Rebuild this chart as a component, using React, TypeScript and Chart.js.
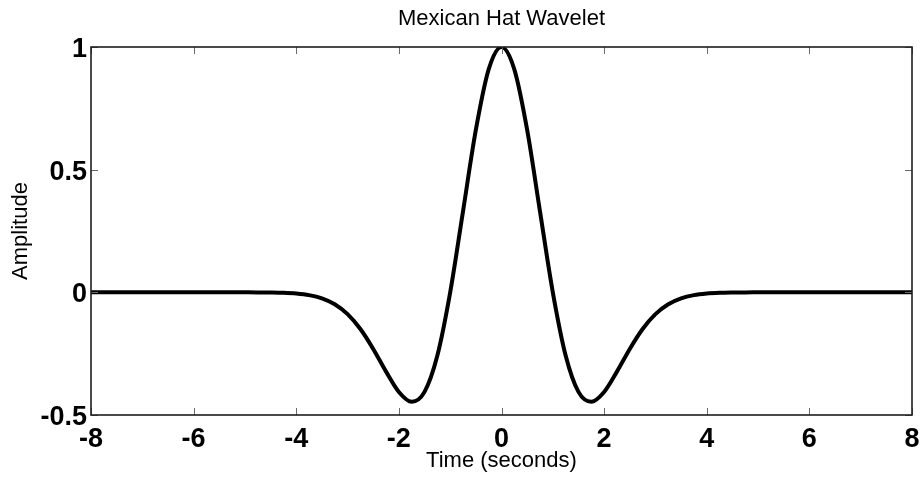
import React, { useEffect, useRef } from "react";
import { Chart, registerables } from "chart.js";

Chart.register(...registerables);

const FONT = "'Liberation Sans', Arial, Helvetica, sans-serif";

const timeSeconds = [
  -8, -7.75, -7.5, -7.25, -7, -6.75, -6.5, -6.25, -6, -5.75, -5.5, -5.25,
  -5, -4.75, -4.5, -4.25, -4, -3.75, -3.5, -3.25, -3, -2.75, -2.5, -2.25,
  -2, -1.75, -1.5, -1.25, -1, -0.75, -0.5, -0.25, 0, 0.25, 0.5, 0.75, 1,
  1.25, 1.5, 1.75, 2, 2.25, 2.5, 2.75, 3, 3.25, 3.5, 3.75, 4, 4.25, 4.5,
  4.75, 5, 5.25, 5.5, 5.75, 6, 6.25, 6.5, 6.75, 7, 7.25, 7.5, 7.75, 8,
];

const amplitude = [
  0, 0, 0, 0, 0, 0, 0, 0, 0, 0, 0, 0,
  -0.0001, -0.0003, -0.0008, -0.002, -0.005, -0.0115, -0.0246, -0.0486,
  -0.0889, -0.1496, -0.2307, -0.3232, -0.406, -0.4461, -0.4058, -0.2575,
  0, 0.3302, 0.6619, 0.9087, 1, 0.9087, 0.6619, 0.3302, 0, -0.2575,
  -0.4058, -0.4461, -0.406, -0.3232, -0.2307, -0.1496, -0.0889, -0.0486,
  -0.0246, -0.0115, -0.005, -0.002, -0.0008, -0.0003, -0.0001,
  0, 0, 0, 0, 0, 0, 0, 0, 0, 0, 0, 0,
];

const xTicks = [-8, -6, -4, -2, 0, 2, 4, 6, 8];
const yTicks = [-0.5, 0, 0.5, 1];
const yTickLabels = ["-0.5", "0", "0.5", "1"];

const frameAndTicks = {
  id: "frameAndTicks",
  afterDraw(chart: any) {
    const { ctx, chartArea, scales } = chart;
    const { left, right, top, bottom } = chartArea;
    const len = 7;
    ctx.save();
    ctx.strokeStyle = "#6a6a6a";
    ctx.lineWidth = 1;
    ctx.beginPath();
    xTicks.forEach((v) => {
      const x = Math.round(scales.x.getPixelForValue(v)) + 0.5;
      ctx.moveTo(x, bottom);
      ctx.lineTo(x, bottom - len);
      ctx.moveTo(x, top);
      ctx.lineTo(x, top + len);
    });
    yTicks.forEach((v) => {
      const y = Math.round(scales.y.getPixelForValue(v)) + 0.5;
      ctx.moveTo(left, y);
      ctx.lineTo(left + len, y);
      ctx.moveTo(right, y);
      ctx.lineTo(right - len, y);
    });
    ctx.stroke();
    ctx.strokeStyle = "#1e1e1e";
    ctx.lineWidth = 1.6;
    ctx.strokeRect(left, top, right - left, bottom - top);
    ctx.restore();
  },
};

export default function App() {
  const ref = useRef<HTMLCanvasElement | null>(null);

  useEffect(() => {
    if (!ref.current) return;
    const chart = new Chart(ref.current, {
      type: "line",
      data: {
        datasets: [
          {
            data: timeSeconds.map((t, i) => ({ x: t, y: amplitude[i] })),
            borderColor: "#000000",
            borderWidth: 4,
            pointRadius: 0,
            cubicInterpolationMode: "monotone",
            fill: false,
          },
        ],
      },
      options: {
        animation: false,
        responsive: false,
        layout: { padding: { left: 0, right: 10, top: 0, bottom: 0 } },
        plugins: {
          legend: { display: false },
          tooltip: { enabled: false },
          title: {
            display: true,
            fullSize: false,
            text: "Mexican Hat Wavelet",
            color: "#000",
            font: { family: FONT, size: 22, weight: "normal" },
            padding: { top: 5.3, bottom: 15.3 },
          },
        },
        scales: {
          x: {
            type: "linear",
            min: -8,
            max: 8,
            grid: { display: false, drawTicks: false, tickLength: 0 },
            border: { display: false },
            afterBuildTicks: (s: any) => {
              s.ticks = xTicks.map((v) => ({ value: v }));
            },
            afterFit: (s: any) => {
              s.height = 62;
              s.paddingLeft = 0;
              s.paddingRight = 0;
            },
            ticks: {
              color: "#000",
              padding: 8,
              maxRotation: 0,
              font: { family: FONT, size: 27, weight: "bold" },
              callback: (v: any) => String(v),
            },
            title: {
              display: true,
              text: "Time (seconds)",
              color: "#000",
              font: { family: FONT, size: 22, weight: "normal" },
              padding: { top: 0, bottom: 2.8 },
            },
          },
          y: {
            type: "linear",
            min: -0.5,
            max: 1,
            grid: { display: false, drawTicks: false, tickLength: 0 },
            border: { display: false },
            afterBuildTicks: (s: any) => {
              s.ticks = yTicks.map((v) => ({ value: v }));
            },
            afterFit: (s: any) => {
              s.width = 91;
            },
            ticks: {
              color: "#000",
              padding: 4,
              labelOffset: 2.5,
              font: { family: FONT, size: 27, weight: "bold" },
              callback: (v: any) => {
                const i = yTicks.indexOf(v);
                return i >= 0 ? yTickLabels[i] : String(v);
              },
            },
            title: {
              display: true,
              text: "Amplitude",
              color: "#000",
              font: { family: FONT, size: 22, weight: "normal" },
              padding: { top: 7.8, bottom: 0 },
            },
          },
        },
      },
      plugins: [frameAndTicks],
    } as any);
    return () => chart.destroy();
  }, []);

  return (
    <div style={{ position: "fixed", left: 0, top: 0, width: 922, height: 477, background: "#fff" }}>
      <canvas ref={ref} width={922} height={477} style={{ display: "block" }} />
    </div>
  );
}
